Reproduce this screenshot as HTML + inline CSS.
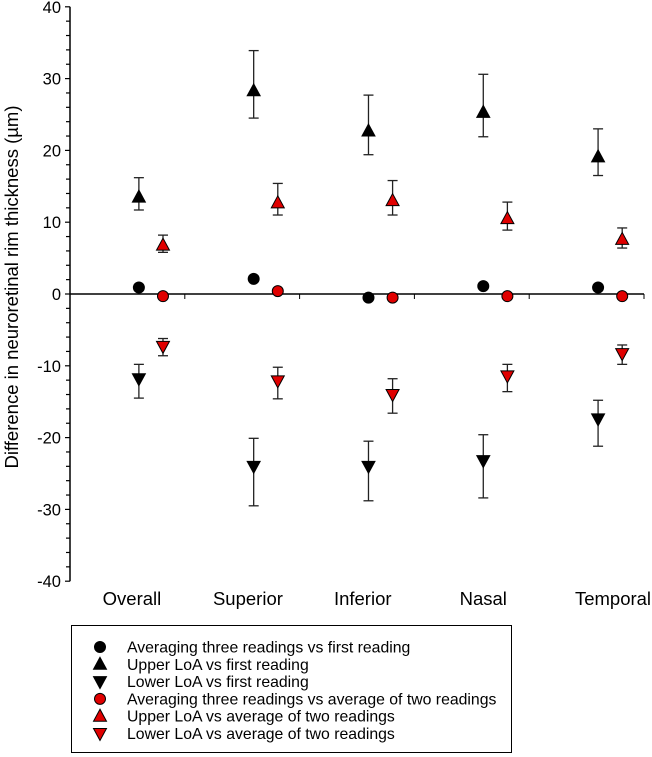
<!DOCTYPE html>
<html><head><meta charset="utf-8"><style>
body{margin:0;background:#fff;width:652px;height:757px;overflow:hidden}
svg{display:block;font-family:"Liberation Sans",Arial,sans-serif}
</style></head><body>
<svg id="chart" width="652" height="757"></svg>
<script>
const categories=["Overall","Superior","Inferior","Nasal","Temporal"];
const meanFirst=[0.9,2.1,-0.5,1.1,0.9];
const upperFirst=[13.5,28.3,22.7,25.3,19.1];
const upperFirstLo=[11.7,24.5,19.4,21.9,16.5];
const upperFirstHi=[16.2,33.9,27.7,30.6,23.0];
const lowerFirst=[-11.8,-24.0,-24.0,-23.2,-17.4];
const lowerFirstLo=[-14.5,-29.5,-28.8,-28.4,-21.2];
const lowerFirstHi=[-9.8,-20.1,-20.5,-19.6,-14.8];
const meanTwo=[-0.3,0.4,-0.5,-0.3,-0.3];
const upperTwo=[6.8,12.7,13.0,10.5,7.6];
const upperTwoLo=[5.8,11.0,11.0,8.9,6.4];
const upperTwoHi=[8.2,15.4,15.8,12.8,9.2];
const lowerTwo=[-7.3,-12.1,-14.0,-11.4,-8.3];
const lowerTwoLo=[-8.6,-14.6,-16.6,-13.6,-9.8];
const lowerTwoHi=[-6.2,-10.2,-11.8,-9.8,-7.1];
const yTicks=[40,30,20,10,0,-10,-20,-30,-40];
const legendLabels=["Averaging three readings vs first reading","Upper LoA vs first reading","Lower LoA vs first reading","Averaging three readings vs average of two readings","Upper LoA vs average of two readings","Lower LoA vs average of two readings"];

const NS="http://www.w3.org/2000/svg";
const svg=document.getElementById('chart');
const X0=70,XW=114.8,Y0=294,YS=7.18;
const labelOff=[0.54,0.55,0.55,0.6,0.73];
const x=v=>X0+v*XW, y=v=>Y0-v*YS;
function el(tag,attrs,parent){const e=document.createElementNS(NS,tag);for(const k in attrs)e.setAttribute(k,attrs[k]);(parent||svg).appendChild(e);return e;}

let a=el('line',{x1:X0,y1:y(40),x2:X0,y2:y(-40),stroke:'#000','stroke-width':1.5});


for(let v=-40;v<=40;v+=2){
  const t=el('line',{x1:X0,x2:X0-(v%10===0?5:4),y1:y(v),y2:y(v),stroke:'#000','stroke-width':1.2});
  
  
}
yTicks.forEach(v=>{
  const t=el('text',{x:61,y:y(v)+6,'text-anchor':'end','font-size':16.5});
  t.textContent=v;
  
  
});
let z=el('line',{x1:X0,y1:Y0,x2:x(5),y2:Y0,stroke:'#000','stroke-width':1.5});


for(let i=1;i<=5;i++){
  const t=el('line',{x1:x(i),x2:x(i),y1:Y0,y2:Y0+5,stroke:'#000','stroke-width':1});
  
  
}
categories.forEach((c,i)=>{
  const t=el('text',{x:x(i+labelOff[i]),y:605,'text-anchor':'middle','font-size':18.5});
  t.textContent=c;
  
  
});
const yt=el('text',{x:0,y:0,'text-anchor':'middle','font-size':18.5,transform:'translate(18,287) rotate(-90)'});
yt.textContent="Difference in neuroretinal rim thickness (µm)";



function marker(type,cx,cy,fill,g){
  if(type==='c')return el('circle',{cx:cx,cy:cy,r:5.5,fill:fill,stroke:'#000','stroke-width':1},g);
  if(type==='u')return el('polygon',{points:`${cx},${cy-7} ${cx-6.5},${cy+5} ${cx+6.5},${cy+5}`,fill:fill,stroke:'#000','stroke-width':1},g);
  return el('polygon',{points:`${cx},${cy+7} ${cx-6.5},${cy-5} ${cx+6.5},${cy-5}`,fill:fill,stroke:'#000','stroke-width':1},g);
}
function errbar(cx,lo,hi,g){
  el('line',{x1:cx,x2:cx,y1:y(lo),y2:y(hi),stroke:'#222','stroke-width':1.3},g);
  el('line',{x1:cx-5,x2:cx+5,y1:y(lo),y2:y(lo),stroke:'#222','stroke-width':1.3},g);
  el('line',{x1:cx-5,x2:cx+5,y1:y(hi),y2:y(hi),stroke:'#222','stroke-width':1.3},g);
}
function series(name,vals,lo,hi,type,fill,off){
  vals.forEach((v,i)=>{
    const g=el('g',{});
    
    
    const cx=x(i+off);
    if(lo)errbar(cx,lo[i],hi[i],g);
    marker(type,cx,y(v),fill,g);
  });
}
series('upper-loa-first',upperFirst,upperFirstLo,upperFirstHi,'u','#000',0.6);
series('lower-loa-first',lowerFirst,lowerFirstLo,lowerFirstHi,'d','#000',0.6);
series('upper-loa-two',upperTwo,upperTwoLo,upperTwoHi,'u','#e00000',0.81);
series('lower-loa-two',lowerTwo,lowerTwoLo,lowerTwoHi,'d','#e00000',0.81);
series('mean-first',meanFirst,null,null,'c','#000',0.6);
series('mean-two',meanTwo,null,null,'c','#e00000',0.81);

const lg=el('g',{});


el('rect',{x:71.5,y:625.5,width:440,height:127,fill:'#fff',stroke:'#000','stroke-width':1},lg);
const lt=['c','u','d','c','u','d'],lf=['#000','#000','#000','#e00000','#e00000','#e00000'];
legendLabels.forEach((s,i)=>{
  const g=el('g',{},lg);
  
  
  const cy=647+i*17.3;
  marker(lt[i],100,cy,lf[i],g);
  const t=el('text',{x:127,y:cy+5.5,'font-size':15.8},g);
  t.textContent=s;
});
</script>
</body></html>
